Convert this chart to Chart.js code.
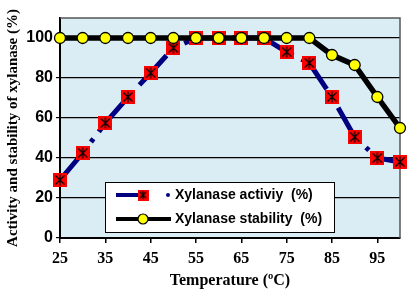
<!DOCTYPE html>
<html lang="en">
  <head>
    <meta charset="UTF-8" />
    <title>Xylanase activity and stability</title>
    <script src="https://cdn.jsdelivr.net/npm/chart.js"></script>
    <style>
      body { margin: 0; background: #fff; }
    </style>
  </head>
  <body>
    <canvas id="xylChart" width="414" height="300"></canvas>

    <script>
      const temps = [25, 30, 35, 40, 45, 50, 55, 60, 65, 70, 75, 80, 85, 90, 95, 100];
      const activity = [29, 42.5, 57.5, 70.5, 82.5, 95, 100, 100, 100, 100, 93, 87.5, 70.5, 50.5, 40, 38];
      const stability = [100, 100, 100, 100, 100, 100, 100, 100, 100, 100, 100, 100, 91.5, 86.5, 70.5, 55];
      const xTicks = [25, 35, 45, 55, 65, 75, 85, 95];
      const yTicks = [0, 20, 40, 60, 80, 100];

      // red square with a black star, like the excel marker
      function starMarker(size) {
        const c = document.createElement("canvas");
        c.width = size;
        c.height = size;
        const g = c.getContext("2d");
        g.fillStyle = "#ff0000";
        g.fillRect(0, 0, size, size);
        g.strokeStyle = "#000";
        g.lineWidth = 1.2;
        g.beginPath();
        g.moveTo(2.5, 2.5);
        g.lineTo(size - 2.5, size - 2.5);
        g.moveTo(size - 2.5, 2.5);
        g.lineTo(2.5, size - 2.5);
        g.moveTo(size / 2, 1.5);
        g.lineTo(size / 2, size - 1.5);
        g.stroke();
        return c;
      }
      const bigStar = starMarker(14);
      const smallStar = starMarker(11);

      const plotFrame = {
        id: "plotFrame",
        beforeDraw(chart) {
          const a = chart.chartArea;
          const ctx = chart.ctx;
          ctx.save();
          ctx.fillStyle = "#dbedf4";
          ctx.fillRect(a.left, a.top, a.right - a.left, a.bottom - a.top);
          ctx.restore();
        },
        beforeDatasetsDraw(chart) {
          const a = chart.chartArea;
          const ctx = chart.ctx;
          ctx.save();
          ctx.strokeStyle = "#555";
          ctx.lineWidth = 1.5;
          ctx.beginPath();
          ctx.moveTo(a.left, a.top);
          ctx.lineTo(a.right, a.top);
          ctx.lineTo(a.right, a.bottom);
          ctx.stroke();
          ctx.restore();
        },
      };

      const boxLegend = {
        id: "boxLegend",
        afterDraw(chart) {
          const ctx = chart.ctx;
          const ds = chart.data.datasets;
          ctx.save();
          ctx.fillStyle = "#fff";
          ctx.fillRect(105, 182, 229, 50);
          ctx.strokeStyle = "#000";
          ctx.lineWidth = 1;
          ctx.strokeRect(105.5, 182.5, 229, 50);

          // activity row
          let y = 195;
          ctx.strokeStyle = "#000080";
          ctx.lineWidth = 4;
          ctx.beginPath();
          ctx.moveTo(116, y);
          ctx.lineTo(149, y);
          ctx.stroke();
          ctx.drawImage(smallStar, 143 - 5.5, y - 5.5);
          ctx.fillStyle = "#000080";
          ctx.beginPath();
          ctx.arc(168, y, 2, 0, Math.PI * 2);
          ctx.fill();

          // stability row
          y = 219;
          ctx.strokeStyle = "#000";
          ctx.beginPath();
          ctx.moveTo(116, y);
          ctx.lineTo(171, y);
          ctx.stroke();
          ctx.fillStyle = "#ffff00";
          ctx.lineWidth = 1.2;
          ctx.beginPath();
          ctx.arc(143, y, 5, 0, Math.PI * 2);
          ctx.fill();
          ctx.stroke();

          ctx.fillStyle = "#000";
          ctx.font = "bold 14px 'Liberation Sans', Arial, sans-serif";
          ctx.textBaseline = "middle";
          ctx.fillText(ds[0].label, 175, 195);
          ctx.fillText(ds[1].label, 175, 219);
          ctx.restore();
        },
      };

      const ctx = document.getElementById("xylChart").getContext("2d");
      new Chart(ctx, {
        type: "line",
        data: {
          datasets: [
            {
              label: "Xylanase activiy  (%)",
              data: temps.map((t, i) => ({ x: t, y: activity[i] })),
              borderColor: "#000080",
              borderWidth: 5,
              borderDash: [40, 9, 4, 9],
              pointStyle: bigStar,
              pointRadius: 7,
              pointHoverRadius: 7,
              tension: 0,
              clip: false,
              order: 2,
            },
            {
              label: "Xylanase stability  (%)",
              data: temps.map((t, i) => ({ x: t, y: stability[i] })),
              borderColor: "#000",
              borderWidth: 5.5,
              pointStyle: "circle",
              pointRadius: 5.5,
              pointHoverRadius: 5.5,
              pointBackgroundColor: "#ffff00",
              pointBorderColor: "#000",
              pointBorderWidth: 1.3,
              tension: 0,
              clip: false,
              order: 1,
            },
          ],
        },
        options: {
          responsive: false,
          animation: false,
          layout: { padding: { top: 18, right: 14, left: 0, bottom: 0 } },
          plugins: {
            legend: { display: false },
            tooltip: { enabled: false },
          },
          scales: {
            x: {
              type: "linear",
              min: 25,
              max: 100,
              afterBuildTicks: (scale) => {
                scale.ticks = xTicks.map((v) => ({ value: v }));
              },
              afterFit: (scale) => {
                scale.height = 62;
              },
              grid: {
                drawOnChartArea: false,
                drawTicks: true,
                tickLength: 5,
                color: "#000",
                lineWidth: 1.5,
              },
              border: { display: true, color: "#000", width: 2 },
              ticks: {
                padding: 6,
                color: "#000",
                maxRotation: 0,
                font: { family: "'Liberation Serif', 'Times New Roman', serif", size: 16, weight: "bold" },
              },
              title: {
                display: true,
                text: "Temperature (ºC)",
                color: "#000",
                padding: { top: 0, bottom: 10 },
                font: { family: "'Liberation Serif', 'Times New Roman', serif", size: 16, weight: "bold" },
              },
            },
            y: {
              min: 0,
              max: 110,
              afterBuildTicks: (scale) => {
                scale.ticks = yTicks.map((v) => ({ value: v }));
              },
              afterFit: (scale) => {
                scale.width = 60;
              },
              grid: {
                color: "#000",
                lineWidth: 1.2,
                tickLength: 4,
              },
              border: { display: true, color: "#000", width: 2 },
              ticks: {
                padding: 3,
                color: "#000",
                font: { family: "'Liberation Sans', Arial, sans-serif", size: 16, weight: "bold" },
              },
              title: {
                display: true,
                text: "Activity and stability of xylanase (%)",
                color: "#000",
                padding: { top: 4, bottom: 0 },
                font: { family: "'Liberation Serif', 'Times New Roman', serif", size: 15, weight: "bold" },
              },
            },
          },
        },
        plugins: [plotFrame, boxLegend],
      });
    </script>
  </body>
</html>
